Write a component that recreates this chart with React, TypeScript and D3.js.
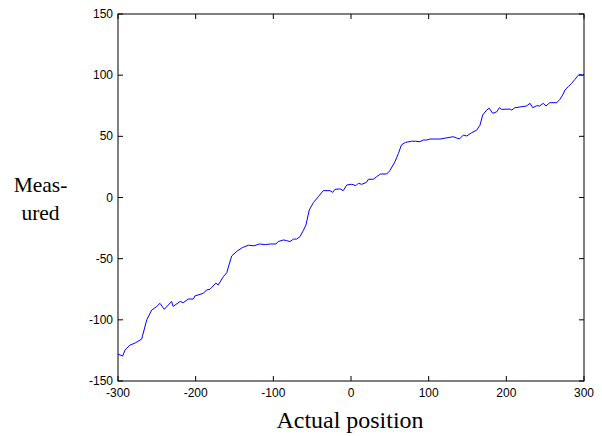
import React, { useEffect, useRef } from "react";
import * as d3 from "d3";

const actualPos = [
  -300, -294, -291, -284.5, -278, -269.5, -263, -256.6, -250, -246, -240.4, -231, -229, -220, -216,
  -209.5, -203, -201, -190, -186, -181.5, -174, -171, -164.4, -160, -153.6, -147, -140, -132, -125,
  -118, -110, -104, -96.6, -93.6, -87, -82.8, -78.5, -74, -70, -65.7, -61.4, -58, -53.7, -48.5, -42,
  -35.7, -27, -23.6, -20.6, -14, -10, -5.5, 1, 6.4, 9.4, 13.8, 20, 22.3, 28.7, 33, 38, 46, 50, 56.6,
  61, 65, 70, 78, 83, 88.8, 93, 97.5, 101.7, 114.6, 127.5, 131.7, 136, 140, 144.6, 149, 155.4, 161.8,
  166, 169.6, 174.7, 178, 182.4, 187.6, 191, 194, 204.7, 207, 211, 217.6, 226, 230.5, 234, 239, 243,
  247.6, 251, 256, 265, 269, 272.6, 275.5, 279.8, 284, 288.4, 292.7, 295, 298.3, 300,
];
const measured = [
  -128, -129.6, -124.7, -120.6, -119, -115.7, -100, -92, -89, -86.5, -91.4, -85, -89, -85, -86,
  -83, -83, -80.5, -78.3, -75.6, -75, -70, -71.5, -64.7, -61.5, -47.8, -44, -41, -39, -39.5,
  -38, -38.5, -38, -38, -36, -34.7, -35.3, -36, -34, -34, -32, -27, -22.5, -10.2, -4.2, 0.7,
  5.6, 5.6, 4.2, 6.7, 7, 5.6, 10.2, 10.8, 9.7, 11.6, 10.8, 12.4, 14.9, 14.9, 17, 19.2, 19.2, 21.9, 29.3,
  36, 43, 45, 46, 46, 45.6, 47, 47, 47.8, 47.8, 49.2, 49.7, 48.6, 48, 51, 50.3, 53, 55,
  59, 67.4, 71.5, 73, 68.8, 70, 73.4, 72, 72.3, 71.5, 73.4, 74, 74.8, 77, 73.4, 75, 74.8,
  77, 74.8, 77.5, 77.5, 80.3, 83.8, 87.9, 90.6, 93.3, 96.6, 100, 100.7, 99.9, 101,
];
const xTicks = [-300, -200, -100, 0, 100, 200, 300];
const yTicks = [-150, -100, -50, 0, 50, 100, 150];

const W = 602;
const H = 436;
const margin = { left: 118, right: 18, top: 14, bottom: 55 };

const App = () => {
  const svgRef = useRef(null);

  useEffect(() => {
    const svg = d3.select(svgRef.current);
    svg.selectAll("*").remove();

    const x = d3.scaleLinear().domain([-300, 300]).range([margin.left, W - margin.right]);
    const y = d3.scaleLinear().domain([-150, 150]).range([H - margin.bottom, margin.top]);
    const tickFont = "Liberation Sans, Arial, sans-serif";

    // plot box
    svg
      .append("rect")
      .attr("x", x(-300))
      .attr("y", y(150))
      .attr("width", x(300) - x(-300))
      .attr("height", y(-150) - y(150))
      .attr("fill", "#fff")
      .attr("stroke", "#000")
      .attr("stroke-width", 1);

    // inward ticks, all four sides
    const tl = 5;
    xTicks.forEach((t) => {
      svg.append("line").attr("x1", x(t)).attr("x2", x(t)).attr("y1", y(-150)).attr("y2", y(-150) - tl).attr("stroke", "#000");
      svg.append("line").attr("x1", x(t)).attr("x2", x(t)).attr("y1", y(150)).attr("y2", y(150) + tl).attr("stroke", "#000");
    });
    yTicks.forEach((t) => {
      svg.append("line").attr("x1", x(-300)).attr("x2", x(-300) + tl).attr("y1", y(t)).attr("y2", y(t)).attr("stroke", "#000");
      svg.append("line").attr("x1", x(300)).attr("x2", x(300) - tl).attr("y1", y(t)).attr("y2", y(t)).attr("stroke", "#000");
    });

    svg
      .selectAll("text.xt")
      .data(xTicks)
      .enter()
      .append("text")
      .attr("class", "xt")
      .attr("x", (d) => x(d))
      .attr("y", y(-150) + 16)
      .attr("text-anchor", "middle")
      .style("font-family", tickFont)
      .style("font-size", "12px")
      .text((d) => d);

    svg
      .selectAll("text.yt")
      .data(yTicks)
      .enter()
      .append("text")
      .attr("class", "yt")
      .attr("x", x(-300) - 5)
      .attr("y", (d) => y(d) + 4)
      .attr("text-anchor", "end")
      .style("font-family", tickFont)
      .style("font-size", "12px")
      .text((d) => d);

    // the line
    const pts = actualPos.map((a, i) => [a, measured[i]]);
    const line = d3
      .line()
      .x((d) => x(d[0]))
      .y((d) => y(d[1]));
    svg
      .append("path")
      .datum(pts)
      .attr("d", line)
      .attr("fill", "none")
      .attr("stroke", "#0000ff")
      .attr("stroke-width", 1);

    // axis labels
    const serif = "Liberation Serif, Times New Roman, serif";
    svg
      .append("text")
      .attr("x", (x(-300) + x(300)) / 2 - 1)
      .attr("y", 428)
      .attr("text-anchor", "middle")
      .attr("textLength", 147)
      .attr("lengthAdjust", "spacingAndGlyphs")
      .style("font-family", serif)
      .style("font-size", "23px")
      .text("Actual position");
    svg
      .append("text")
      .attr("x", 40.5)
      .attr("y", 192)
      .attr("text-anchor", "middle")
      .style("font-family", serif)
      .style("font-size", "21.5px")
      .text("Meas-");
    svg
      .append("text")
      .attr("x", 40.5)
      .attr("y", 220)
      .attr("text-anchor", "middle")
      .style("font-family", serif)
      .style("font-size", "21.5px")
      .text("ured");
  }, []);

  return (
    <svg
      ref={svgRef}
      width={W}
      height={H}
      style={{ position: "absolute", left: 0, top: 0, background: "#fff" }}
    ></svg>
  );
};

export default App;
